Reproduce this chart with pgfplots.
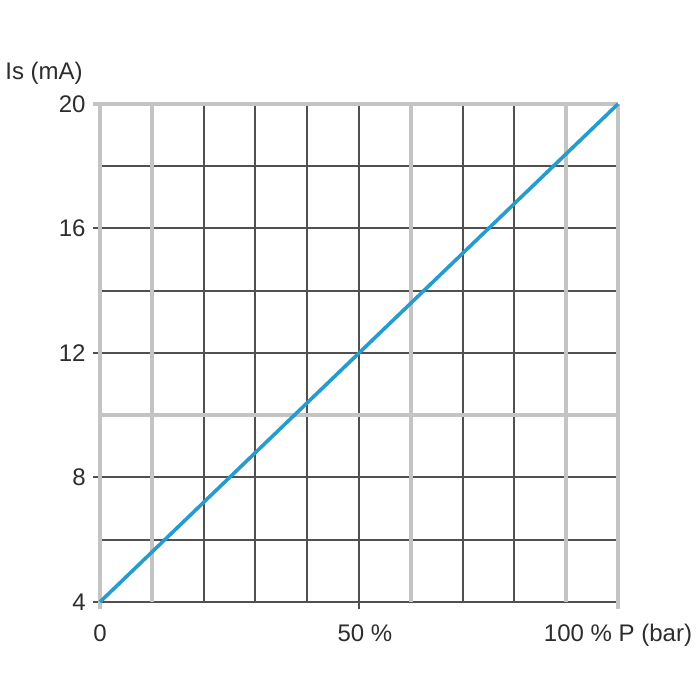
\documentclass[border=0pt]{standalone}
\usepackage{pgfplots}
\pgfplotsset{compat=1.18}
\usepackage{fontspec}
\setmainfont{Liberation Sans}
\definecolor{gridgray}{RGB}{196,196,196}
\definecolor{griddark}{RGB}{80,80,80}
\definecolor{lineblue}{RGB}{38,155,205}
\definecolor{txt}{RGB}{45,45,45}
\begin{document}
\begin{tikzpicture}
\path (0,0) rectangle (350pt,350pt);
\begin{axis}[
  at={(50pt,49pt)}, anchor=south west,
  scale only axis, width=259pt, height=249pt,
  xmin=0, xmax=100, ymin=4, ymax=20,
  clip=false,
  axis line style={draw=none},
  tick style={draw=none},
  major tick length=0pt,
  xtick={0,50,100},
  xticklabels={0,\hspace*{6pt}50 \%,100 \% P (bar)},
  ytick={4,8,12,16,20},
  /pgf/number format/assume math mode=true,
  font=\fontsize{12}{14}\selectfont,
  tick label style={text=txt, font=\fontsize{12}{14}\selectfont, inner sep=0pt},
  xticklabel style={anchor=base, yshift=-19.5pt},
  yticklabel style={anchor=east, xshift=-7pt},
  ylabel={Is (mA)},
  every axis y label/.style={at={(rel axis cs:0,1)}, anchor=base west, xshift=-47.5pt, yshift=12pt, text=txt, inner sep=0pt, font=\fontsize{12}{14}\selectfont},
]
% dark grid lines
\addplot[griddark, line width=1pt] coordinates {(20,4) (20,20)};
\addplot[griddark, line width=1pt] coordinates {(30,4) (30,20)};
\addplot[griddark, line width=1pt] coordinates {(40,4) (40,20)};
\addplot[griddark, line width=1pt] coordinates {(50,3.775) (50,20)};
\addplot[griddark, line width=1pt] coordinates {(70,4) (70,20)};
\addplot[griddark, line width=1pt] coordinates {(80,4) (80,20)};
\addplot[griddark, line width=1pt] coordinates {(-1.35,4) (100,4)};
\addplot[griddark, line width=1pt] coordinates {(0,6) (100,6)};
\addplot[griddark, line width=1pt] coordinates {(-1.35,8) (100,8)};
\addplot[griddark, line width=1pt] coordinates {(-1.35,12) (100,12)};
\addplot[griddark, line width=1pt] coordinates {(0,14) (100,14)};
\addplot[griddark, line width=1pt] coordinates {(-1.35,16) (100,16)};
\addplot[griddark, line width=1pt] coordinates {(0,18) (100,18)};
% light grey grid lines
\addplot[gridgray, line width=2pt] coordinates {(0,3.775) (0,20)};
\addplot[gridgray, line width=2pt] coordinates {(10,4) (10,20)};
\addplot[gridgray, line width=2pt] coordinates {(60,4) (60,20)};
\addplot[gridgray, line width=2pt] coordinates {(90,4) (90,20)};
\addplot[gridgray, line width=2pt] coordinates {(100,3.775) (100,20)};
\addplot[gridgray, line width=2pt] coordinates {(0,10) (100,10)};
\addplot[gridgray, line width=2pt] coordinates {(-1.35,20) (100,20)};
% signal
\addplot[lineblue, line width=1.8pt] coordinates {(0,4) (100,20)};
\end{axis}
\end{tikzpicture}
\end{document}
